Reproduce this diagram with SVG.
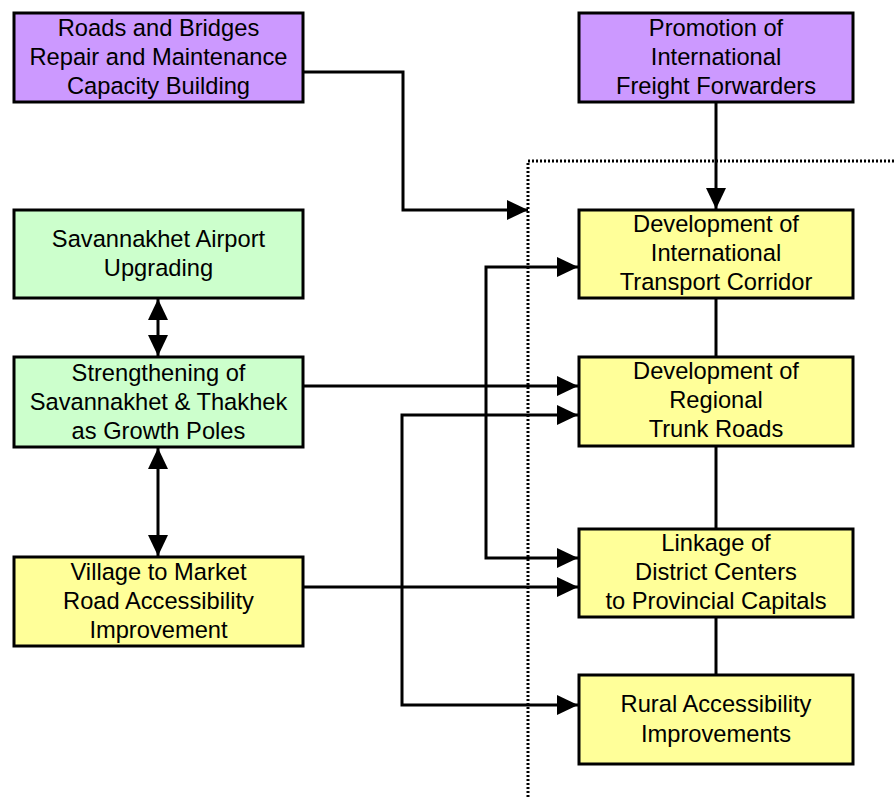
<svg xmlns="http://www.w3.org/2000/svg" width="896" height="800" viewBox="0 0 896 800">
<style>
.box{stroke:#000;stroke-width:3}
.purple{fill:#CC99FF}
.green{fill:#CCFFCC}
.yellow{fill:#FFFF99}
.t{font-family:"Liberation Sans",Arial,sans-serif;font-size:23.7px;fill:#000;text-anchor:middle}
.c{fill:none;stroke:#000;stroke-width:3}
.dot{fill:none;stroke:#000;stroke-width:3;stroke-dasharray:2 2}
</style>
<defs>
<marker id="ah" markerUnits="userSpaceOnUse" markerWidth="22" markerHeight="22" refX="21" refY="10" orient="auto-start-reverse" viewBox="0 0 22 20">
<path d="M0,0 L21,10 L0,20 z" fill="#000"/>
</marker>
</defs>
<rect width="896" height="800" fill="#fff"/>
<g id="connectors">
<path class="dot" d="M528,797 V161 H896"/>
<path class="c" d="M303,72 H403 V210 H528" marker-end="url(#ah)"/>
<path class="c" d="M716,102 V209" marker-end="url(#ah)"/>
<path class="c" d="M716,298 V357"/>
<path class="c" d="M716,446 V529"/>
<path class="c" d="M716,617 V675"/>
<path class="c" d="M158,299 V356" marker-start="url(#ah)" marker-end="url(#ah)"/>
<path class="c" d="M158,448 V556" marker-start="url(#ah)" marker-end="url(#ah)"/>
<path class="c" d="M303,386 H578" marker-end="url(#ah)"/>
<path class="c" d="M303,587 H578" marker-end="url(#ah)"/>
<path class="c" d="M578,267 H486 V558 H578" marker-start="url(#ah)" marker-end="url(#ah)"/>
<path class="c" d="M578,415 H402 V705 H578" marker-start="url(#ah)" marker-end="url(#ah)"/>
</g>
<g id="roads-bridges">
<rect class="box purple" x="14" y="13" width="289" height="89"/>
<text class="t" x="158.5" y="36">Roads and Bridges</text>
<text class="t" x="158.5" y="65">Repair and Maintenance</text>
<text class="t" x="158.5" y="94">Capacity Building</text>
</g>
<g id="freight-forwarders">
<rect class="box purple" x="579" y="13" width="274" height="89"/>
<text class="t" x="716" y="36">Promotion of</text>
<text class="t" x="716" y="65">International</text>
<text class="t" x="716" y="94">Freight Forwarders</text>
</g>
<g id="airport">
<rect class="box green" x="14" y="210" width="289" height="88"/>
<text class="t" x="158.5" y="247">Savannakhet Airport</text>
<text class="t" x="158.5" y="276">Upgrading</text>
</g>
<g id="growth-poles">
<rect class="box green" x="14" y="357" width="289" height="90"/>
<text class="t" x="158.5" y="381">Strengthening of</text>
<text class="t" x="158.5" y="410">Savannakhet &amp; Thakhek</text>
<text class="t" x="158.5" y="439">as Growth Poles</text>
</g>
<g id="village-market">
<rect class="box yellow" x="14" y="557" width="289" height="89"/>
<text class="t" x="158.5" y="580">Village to Market</text>
<text class="t" x="158.5" y="609">Road Accessibility</text>
<text class="t" x="158.5" y="638">Improvement</text>
</g>
<g id="intl-corridor">
<rect class="box yellow" x="579" y="210" width="274" height="88"/>
<text class="t" x="716" y="232">Development of</text>
<text class="t" x="716" y="261">International</text>
<text class="t" x="716" y="290">Transport Corridor</text>
</g>
<g id="trunk-roads">
<rect class="box yellow" x="579" y="357" width="274" height="89"/>
<text class="t" x="716" y="379">Development of</text>
<text class="t" x="716" y="408">Regional</text>
<text class="t" x="716" y="437">Trunk Roads</text>
</g>
<g id="district-linkage">
<rect class="box yellow" x="579" y="529" width="274" height="88"/>
<text class="t" x="716" y="551">Linkage of</text>
<text class="t" x="716" y="580">District Centers</text>
<text class="t" x="716" y="609">to Provincial Capitals</text>
</g>
<g id="rural-access">
<rect class="box yellow" x="579" y="675" width="274" height="89"/>
<text class="t" x="716" y="712">Rural Accessibility</text>
<text class="t" x="716" y="742">Improvements</text>
</g>
</svg>
